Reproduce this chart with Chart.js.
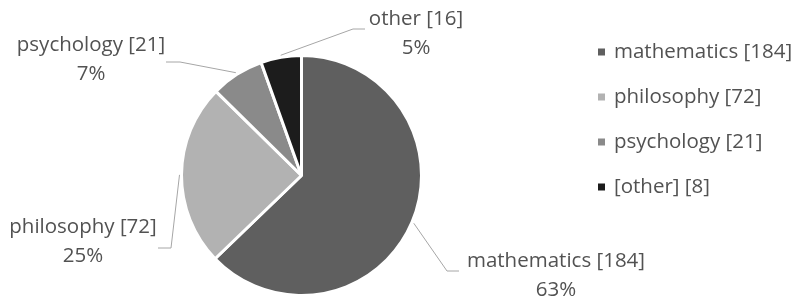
<!DOCTYPE html>
<html>
<head>
<meta charset="utf-8">
<script src="https://cdn.jsdelivr.net/npm/chart.js@4"></script>
<style>
  html, body { margin: 0; padding: 0; background: #fff; }
  #wrap { width: 798px; height: 297px; position: relative; }
</style>
</head>
<body>
<div id="wrap"><canvas id="pieChart"></canvas></div>
<script>
// --- data ---
const categories = ['mathematics', 'philosophy', 'psychology', 'other'];
const counts = [184, 72, 21, 16];
const legendLabels = ['mathematics [184]', 'philosophy [72]', 'psychology [21]', '[other] [8]'];
const sliceColors = ['#5f5f5f', '#b2b2b2', '#8a8a8a', '#1c1c1c'];

const FONT = '20.5px "Open Sans", Lato, sans-serif';
const TEXT = '#525252';

// label placement: text centre x, first line y, elbow point, end of the short horizontal
const labelSpots = [
    { x: 556, y: 261, ex: 447, ey: 271, hx: 459 },
    { x: 83,  y: 227, ex: 171, ey: 248, hx: 158 },
    { x: 91,  y: 45,  ex: 180, ey: 62,  hx: 166 },
    { x: 416, y: 19,  ex: 353, ey: 29,  hx: 365 }
];

const total = counts.reduce((a, b) => a + b, 0);

// draws the callout labels and the legend on the right
const labelPlugin = {
    id: 'calloutLabels',
    afterDraw(chart) {
        const ctx = chart.ctx;
        const arcs = chart.getDatasetMeta(0).data;
        ctx.save();
        ctx.font = FONT;
        ctx.textBaseline = 'middle';

        arcs.forEach((arc, i) => {
            const mid = (arc.startAngle + arc.endAngle) / 2;
            const r = arc.outerRadius + 2;
            const sx = arc.x + Math.cos(mid) * r;
            const sy = arc.y + Math.sin(mid) * r;
            const s = labelSpots[i];
            ctx.strokeStyle = '#a6a6a6';
            ctx.lineWidth = 1;
            ctx.beginPath();
            ctx.moveTo(sx, sy);
            ctx.lineTo(s.ex, s.ey);
            ctx.lineTo(s.hx, s.ey);
            ctx.stroke();

            ctx.fillStyle = TEXT;
            ctx.textAlign = 'center';
            ctx.fillText(categories[i] + ' [' + counts[i] + ']', s.x, s.y);
            ctx.fillText(Math.round(counts[i] / total * 100) + '%', s.x, s.y + 29);
        });

        // legend
        ctx.textAlign = 'left';
        legendLabels.forEach((t, i) => {
            const y = 52 + i * 45;
            ctx.fillStyle = sliceColors[i];
            ctx.fillRect(598, y - 3.5, 7, 7);
            ctx.fillStyle = TEXT;
            ctx.fillText(t, 614, y);
        });
        ctx.restore();
    }
};

new Chart(document.getElementById('pieChart').getContext('2d'), {
    type: 'pie',
    data: {
        labels: categories,
        datasets: [{
            data: counts,
            backgroundColor: sliceColors,
            borderColor: '#ffffff',
            borderWidth: 3
        }]
    },
    options: {
        responsive: true,
        maintainAspectRatio: false,
        animation: false,
        layout: { padding: { left: 180, right: 375, top: 54, bottom: 0 } },
        plugins: { legend: { display: false }, tooltip: { enabled: false } }
    },
    plugins: [labelPlugin]
});
</script>
</body>
</html>
